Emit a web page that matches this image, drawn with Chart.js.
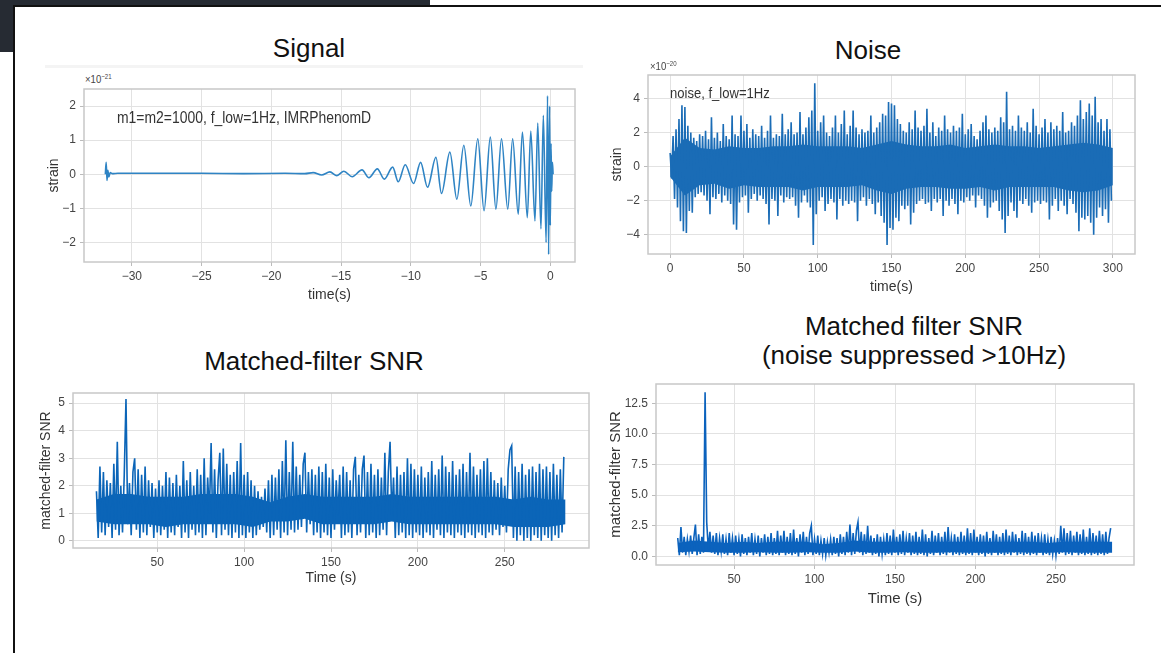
<!DOCTYPE html>
<html>
<head>
<meta charset="utf-8">
<script src="https://cdn.jsdelivr.net/npm/chart.js@4.4.1/dist/chart.umd.min.js"></script>
<style>
  body { margin:0; width:1161px; height:653px; overflow:hidden; background:#fff; position:relative; font-family:"Liberation Sans", Arial, sans-serif; }
  .abs { position:absolute; }
  .title { position:absolute; width:440px; text-align:center; font-size:26px; line-height:30px; color:#111; }
  .note { position:absolute; z-index:5; color:#333; white-space:nowrap; line-height:1; transform:scaleX(0.87); transform-origin:left center; }
  canvas { position:absolute; }
</style>
</head>
<body>
<div class="abs" style="left:0;top:0;width:430px;height:52px;background:#262b33"></div>
<div class="abs" style="left:13px;top:5px;width:1150px;height:650px;border-left:2px solid #111;border-top:2px solid #111;background:#fff"></div>
<div class="abs" style="left:45px;top:65px;width:538px;height:3px;background:#f4f4f4"></div>

<div class="title" style="left:89px;top:33px">Signal</div>
<div class="title" style="left:648px;top:35px">Noise</div>
<div class="title" style="left:94px;top:346px">Matched-filter SNR</div>
<div class="title" style="left:694px;top:311px">Matched filter SNR</div>
<div class="title" style="left:694px;top:340px">(noise suppressed &gt;10Hz)</div>

<div class="note" style="left:85px;top:73px;font-size:11px;color:#444">×10<span style="font-size:7px;vertical-align:4px">−21</span></div>
<div class="note" style="left:650px;top:60px;font-size:11px;color:#444">×10<span style="font-size:7px;vertical-align:4px">−20</span></div>
<div class="note" style="left:117px;top:110px;font-size:16px">m1=m2=1000, f_low=1Hz, IMRPhenomD</div>
<div class="note" style="left:670px;top:85px;font-size:15px">noise, f_low=1Hz</div>

<canvas id="signal"></canvas>
<canvas id="noise"></canvas>
<canvas id="snr"></canvas>
<canvas id="snrLow"></canvas>

<script>
// Signal: strain (x1e-21) at peaks/troughs of the chirp
const signalTime = [-31.9, -31.84, -31.78, -31.72, -31.65, -31.55, -31.4, -31.0, -28, -25, -22, -19, -17.6,
  -17.0, -16.4, -15.8, -15.3, -14.8, -14.2, -13.5, -13.0, -12.4, -11.9, -11.3, -10.9, -10.4, -9.8, -9.3, -8.8,
  -8.2, -7.8, -7.2, -6.7, -6.2, -5.7, -5.2, -4.75, -4.3, -3.9, -3.5, -3.05, -2.7, -2.3, -2.0, -1.65, -1.4, -1.1,
  -0.9, -0.67, -0.5, -0.3, -0.2, -0.12, -0.05, 0.0, 0.05, 0.1, 0.15, 0.2];
const signalStrain = [0, 0.35, -0.18, 0.12, -0.08, 0.05, 0.02, 0.03, 0.03, 0.03, 0.02, 0.03, 0.02,
  0.05, -0.02, 0.07, -0.04, 0.09, -0.07, 0.13, -0.1, 0.16, -0.14, 0.21, -0.22, 0.28, -0.27, 0.35, -0.38,
  0.5, -0.56, 0.65, -0.73, 0.85, -0.93, 1.04, -1.07, 1.09, -1.02, 1.04, -1.02, 1.04, -1.17, 1.24, -1.27, 1.27, -1.37,
  1.5, -1.6, 1.73, -2.0, 2.3, -2.35, 2.0, -1.5, 0.9, -0.5, 0.35, 0.0];

// Noise: strain (x1e-20), one sample per second from t = 0
const noiseStart = 0, noiseStep = 1;
const noiseStrain = [
  0.8, -0.7, 1.8, -1.9, 2.2, -2.4, 2.8, -3.2, 3.6, -3.8,
  3.5, -3.9, 2.4, -2.6, 2.0, -2.7, 1.7, -1.8, 1.5, -1.6,
  1.9, -1.5, 1.8, -1.7, 2.1, -2.0, 1.6, -2.8, 2.9, -1.8,
  1.7, -1.9, 2.0, -1.6, 1.5, -2.1, 2.5, -1.7, 1.8, -2.0,
  1.6, -2.2, 3.0, -3.4, 1.9, -3.7, 1.8, -2.1, 3.0, -1.8,
  2.1, -1.7, 2.5, -2.7, 1.7, -1.9, 2.2, -1.6, 1.9, -2.0,
  1.8, -1.7, 2.4, -1.9, 1.7, -2.2, 2.1, -3.4, 3.0, -1.9,
  1.7, -2.0, 1.9, -2.9, 1.8, -1.7, 3.1, -2.1, 1.9, -1.8,
  2.2, -1.9, 2.6, -1.8, 1.9, -2.3, 2.0, -3.0, 3.2, -2.1,
  1.9, -1.7, 2.3, -2.1, 2.9, -2.4, 3.3, -4.6, 4.9, -2.8,
  2.1, -2.0, 2.6, -1.8, 3.0, -2.6, 2.0, -2.2, 1.8, -1.9,
  2.3, -2.1, 3.0, -3.1, 2.0, -1.9, 2.5, -2.3, 3.3, -2.0,
  1.9, -2.2, 2.4, -2.0, 3.3, -2.1, 2.3, -3.2, 1.9, -2.0,
  2.2, -1.8, 2.0, -2.3, 2.1, -1.9, 3.0, -2.2, 2.0, -2.8,
  2.3, -2.1, 2.6, -2.9, 3.1, -3.3, 3.0, -4.6, 3.8, -3.6,
  3.7, -3.7, 3.6, -3.0, 2.8, -3.2, 2.5, -2.3, 2.1, -2.5,
  2.0, -2.3, 2.6, -3.4, 2.2, -2.7, 3.3, -2.2, 2.3, -2.0,
  2.1, -1.9, 2.4, -2.2, 3.4, -2.1, 2.0, -2.6, 2.6, -1.9,
  1.8, -2.1, 2.3, -1.9, 2.1, -2.9, 3.0, -2.0, 2.2, -2.3,
  2.0, -1.9, 2.4, -2.2, 2.1, -2.8, 2.3, -2.0, 3.1, -2.1,
  1.9, -1.8, 2.2, -2.0, 2.5, -1.7, 1.8, -2.4, 1.6, -1.7,
  2.1, -1.9, 2.6, -2.3, 3.0, -3.0, 2.2, -2.4, 2.0, -2.1,
  2.3, -2.0, 2.1, -2.6, 2.9, -3.1, 2.6, -3.9, 4.4, -2.9,
  2.2, -2.1, 2.4, -2.6, 2.1, -3.0, 3.0, -2.0, 2.3, -2.2,
  2.1, -1.9, 2.6, -2.3, 2.0, -2.7, 3.4, -2.1, 2.4, -2.0,
  1.9, -2.2, 2.3, -2.0, 2.8, -2.1, 2.0, -3.1, 2.6, -2.3,
  2.2, -1.9, 2.4, -2.6, 2.1, -2.0, 3.2, -2.3, 2.0, -2.8,
  2.1, -1.9, 2.6, -2.2, 2.4, -2.7, 3.0, -3.8, 3.9, -3.0,
  2.8, -3.1, 3.2, -2.9, 3.7, -3.3, 3.0, -4.0, 4.1, -3.0,
  2.6, -2.4, 2.8, -2.9, 2.1, -2.5, 2.8, -3.3, 2.2, -2.0];
// solid core of the noise band (every 10 s from t = 0), where the samples overlap
const noiseCoreStep = 10;
const noiseCoreTop = [0.6, 1.7, 1.1, 1.0, 1.2, 1.1, 1.1, 1.2, 1.2, 1.3, 1.2, 1.2, 1.2, 1.1, 1.3, 1.5,
  1.3, 1.2, 1.2, 1.3, 1.1, 1.2, 1.3, 1.2, 1.2, 1.1, 1.2, 1.3, 1.4, 1.3, 1.1];
const noiseCoreBottom = [-0.6, -1.7, -1.1, -1.0, -1.3, -1.1, -1.2, -1.2, -1.2, -1.4, -1.2, -1.2, -1.2, -1.1, -1.4, -1.6,
  -1.3, -1.2, -1.2, -1.3, -1.3, -1.2, -1.4, -1.2, -1.2, -1.2, -1.2, -1.4, -1.5, -1.4, -1.1];

// Matched-filter SNR, one sample per second from t = 15
const snrStart = 15, snrStep = 1;
const snrValues = [
  1.8, 0.1, 2.7, 0.3, 2.5, 0.2, 2.2, 0.5, 2.1, 0.1,
  2.8, 0.4, 3.6, 0.2, 2.0, 0.3, 2.4, 5.15, 0.6, 2.1,
  0.2, 2.5, 3.0, 0.4, 2.6, 0.1, 2.4, 0.3, 2.7, 0.2,
  2.2, 0.5, 2.1, 0.1, 1.9, 0.3, 2.2, 0.2, 2.0, 0.4,
  2.5, 0.1, 2.3, 0.3, 2.1, 0.2, 2.4, 0.5, 2.0, 0.1,
  2.9, 0.3, 2.2, 0.1, 2.5, 0.4, 2.0, 0.2, 2.6, 0.3,
  2.4, 0.1, 3.0, 0.2, 2.3, 1.0, 3.55, 0.3, 2.6, 0.1,
  2.2, 3.2, 0.2, 3.35, 0.4, 2.8, 0.2, 2.4, 0.1, 2.5,
  0.3, 2.9, 0.1, 3.55, 0.2, 2.4, 0.1, 2.5, 0.3, 2.2,
  0.1, 2.0, 0.2, 1.8, 0.4, 1.6, 0.5, 1.9, 0.3, 2.2,
  0.1, 2.4, 0.2, 2.3, 0.4, 2.6, 0.1, 2.9, 0.3, 3.65,
  0.2, 2.5, 0.4, 3.6, 0.3, 2.7, 0.4, 2.4, 0.5, 2.8,
  3.2, 0.3, 2.5, 0.6, 2.6, 0.2, 2.4, 0.3, 2.7, 0.1,
  2.5, 0.3, 2.8, 0.2, 2.3, 0.1, 2.6, 0.4, 2.2, 0.9,
  2.4, 0.1, 2.7, 0.2, 2.5, 0.3, 2.2, 0.1, 2.6, 3.05,
  0.2, 2.4, 0.3, 2.6, 3.1, 0.1, 2.5, 0.2, 2.8, 0.3,
  2.4, 0.1, 2.6, 0.2, 2.3, 0.4, 3.2, 0.2, 2.5, 3.6,
  0.9, 2.3, 0.1, 2.7, 0.2, 2.4, 0.3, 2.5, 0.1, 3.0,
  0.2, 2.8, 0.1, 2.6, 0.3, 2.4, 0.2, 2.7, 0.1, 2.3,
  0.3, 2.5, 0.2, 2.9, 0.1, 2.4, 0.4, 2.6, 0.2, 3.1,
  0.1, 2.7, 0.3, 2.5, 0.2, 2.9, 0.1, 2.4, 0.3, 2.6,
  0.2, 2.8, 0.1, 2.5, 0.3, 3.2, 0.2, 2.7, 0.1, 2.4,
  0.3, 2.6, 0.2, 2.9, 0.1, 3.0, 0.3, 2.5, 0.2, 2.2,
  0.4, 2.1, 0.2, 2.3, 0.5, 2.0, 0.3, 2.6, 3.3, 3.45,
  0.1, 2.7, 0.0, 2.5, 0.2, 2.8, 0.0, 2.4, 0.1, 2.6,
  0.0, 2.7, 0.2, 2.5, 0.1, 2.8, 0.0, 2.6, 0.2, 2.7,
  0.1, 2.5, 0.0, 2.8, 0.2, 2.4, 0.1, 2.6, 0.3, 3.05];
// solid core of the SNR band (every 10 s from t = 15)
const snrCoreStep = 10;
const snrCoreTop = [1.5, 1.7, 1.7, 1.6, 1.6, 1.6, 1.7, 1.7, 1.7, 1.6, 1.4, 1.6, 1.7, 1.6,
  1.6, 1.6, 1.6, 1.7, 1.6, 1.6, 1.6, 1.6, 1.6, 1.6, 1.5, 1.6, 1.5, 1.5];
const snrCoreBottom = [0.7, 0.6, 0.6, 0.6, 0.5, 0.6, 0.6, 0.6, 0.6, 0.5, 0.7, 0.7, 0.8, 0.6,
  0.6, 0.6, 0.6, 0.7, 0.6, 0.6, 0.6, 0.6, 0.6, 0.6, 0.5, 0.5, 0.5, 0.6];

// Matched-filter SNR with noise suppressed >10Hz, same sampling
const snrLowValues = [
  1.5, 0.1, 2.4, 0.3, 1.6, 0.1, 1.4, 0.4, 1.7, 0.2,
  1.5, 2.6, 0.1, 1.8, 0.2, 1.6, 0.3, 13.4, 2.8, 0.6,
  2.0, 0.3, 1.7, 0.2, 1.9, 0.1, 1.5, 0.4, 1.8, 0.2,
  1.4, 0.1, 1.9, 0.3, 1.5, 0.1, 1.7, 0.2, 1.4, 0.0,
  1.8, 0.2, 1.5, 0.1, 1.6, 0.3, 1.9, 0.1, 1.4, 0.2,
  1.7, 0.0, 1.5, 0.3, 1.8, 0.1, 1.6, 0.2, 1.9, 0.1,
  1.5, 0.2, 2.1, 0.1, 1.7, 0.3, 2.1, 0.1, 1.6, 0.2,
  1.9, 0.1, 2.2, 0.2, 1.5, 0.0, 1.8, 0.3, 2.0, 0.1,
  1.6, 0.2, 1.9, 2.5, 0.1, 1.4, 0.2, 1.7, 0.1, 1.3,
  0.2, 1.5, 0.1, 1.2, 0.3, 1.4, 0.1, 1.6, 0.2, 1.5,
  0.0, 1.8, 0.2, 1.6, 0.1, 2.0, 0.3, 2.6, 0.1, 1.9,
  0.2, 2.1, 2.8, 0.3, 2.0, 0.1, 1.8, 0.2, 2.5, 0.3,
  1.7, 0.1, 1.5, 0.2, 1.8, 0.0, 1.6, 0.2, 1.4, 0.1,
  1.9, 0.2, 1.7, 0.1, 2.2, 0.3, 1.6, 0.1, 1.8, 0.2,
  2.1, 0.1, 1.5, 0.3, 1.9, 0.1, 1.7, 0.2, 2.0, 0.1,
  1.6, 0.2, 2.2, 0.1, 1.8, 0.0, 1.5, 0.2, 2.1, 0.1,
  1.7, 0.3, 1.9, 0.1, 1.6, 0.2, 2.0, 0.1, 2.4, 0.3,
  1.5, 0.1, 1.8, 0.2, 1.6, 0.1, 2.0, 0.2, 1.7, 0.1,
  2.3, 0.2, 1.9, 0.1, 2.2, 0.3, 1.6, 0.1, 1.8, 0.2,
  1.7, 0.0, 2.0, 0.2, 1.5, 0.1, 2.1, 0.3, 1.8, 0.1,
  1.6, 0.2, 1.9, 0.1, 2.2, 0.2, 1.7, 0.1, 2.0, 0.3,
  1.8, 0.1, 1.5, 0.2, 2.1, 0.1, 1.9, 0.2, 1.6, 0.1,
  2.0, 0.2, 1.7, 0.1, 1.9, 0.3, 1.5, 0.1, 1.8, 0.2,
  1.4, 0.1, 1.6, 0.2, 1.3, 0.1, 1.5, 0.2, 2.5, 0.3,
  2.3, 0.1, 1.9, 0.2, 2.1, 0.1, 1.7, 0.3, 2.0, 0.1,
  1.8, 0.2, 2.2, 0.1, 1.6, 0.2, 2.3, 0.1, 1.9, 0.2,
  1.7, 0.1, 2.1, 0.2, 1.8, 0.1, 2.0, 0.2, 1.5, 2.3];
const snrLowCoreTop = [1.1, 1.3, 1.2, 1.1, 1.2, 1.1, 1.2, 1.2, 1.2, 1.0, 1.1, 1.3, 1.2, 1.2,
  1.2, 1.2, 1.2, 1.2, 1.2, 1.2, 1.2, 1.2, 1.2, 1.1, 1.2, 1.2, 1.2, 1.2];
const snrLowCoreBottom = [0.35, 0.4, 0.35, 0.3, 0.3, 0.35, 0.3, 0.3, 0.35, 0.3, 0.3, 0.4, 0.3, 0.3,
  0.35, 0.3, 0.3, 0.35, 0.3, 0.3, 0.3, 0.35, 0.3, 0.3, 0.35, 0.3, 0.3, 0.3];

const signalXTicks = [-30, -25, -20, -15, -10, -5, 0];
const signalYTicks = [-2, -1, 0, 1, 2];
const noiseXTicks = [0, 50, 100, 150, 200, 250, 300];
const noiseYTicks = [-4, -2, 0, 2, 4];
const snrXTicks = [50, 100, 150, 200, 250];
const snrYTicks = [0, 1, 2, 3, 4, 5];
const snrLowYTicks = [0, 2.5, 5, 7.5, 10, 12.5];

const FONT = '"Liberation Sans", Arial, sans-serif';
const Y_W = 60, X_H = 46, PAD = 4;

// matplotlib-like box around the axes
const frame = {
  id: 'frame',
  afterDatasetsDraw(chart) {
    const {ctx, chartArea: a} = chart;
    ctx.save();
    ctx.strokeStyle = '#c8c8c8';
    ctx.lineWidth = 1.5;
    ctx.strokeRect(a.left, a.top, a.right - a.left, a.bottom - a.top);
    ctx.restore();
  }
};

const minus = v => (v < 0 ? '\u2212' + Math.abs(v) : String(v));
const series = (start, step, vals) => vals.map((v, i) => ({x: start + i * step, y: v}));

// filled band (top dataset fills down to the next one)
function band(top, bottom, color) {
  const base = {borderWidth: 0, pointRadius: 0, backgroundColor: color, borderColor: color};
  return [
    Object.assign({data: top, fill: '+1'}, base),
    Object.assign({data: bottom, fill: false}, base)
  ];
}

function makeChart(id, o) {
  const [L, T, R, B] = o.area;
  const canvas = document.getElementById(id);
  const left = L - Y_W, top = T - PAD;
  const w = R - left + PAD, h = B - top + X_H;
  canvas.width = w; canvas.height = h;
  Object.assign(canvas.style, {left: left + 'px', top: top + 'px', width: w + 'px', height: h + 'px'});
  const lh = o.labelSize * 1.2;
  const grid = {color: '#e2e2e2', lineWidth: 1, tickLength: 4, tickColor: '#bbb'};

  const datasets = [{
    data: o.points,
    borderColor: o.color,
    borderWidth: o.lineWidth,
    pointRadius: 0,
    fill: false,
    tension: 0,
    cubicInterpolationMode: o.smooth ? 'monotone' : 'default'
  }];
  if (o.core) datasets.push(...band(o.core[0], o.core[1], o.color));

  new Chart(canvas, {
    type: 'line',
    data: {datasets},
    plugins: [frame],
    options: {
      responsive: false,
      animation: false,
      devicePixelRatio: 1,
      parsing: false,
      events: [],
      layout: {padding: {top: PAD, right: PAD, left: 0, bottom: 0}},
      plugins: {legend: {display: false}, tooltip: {enabled: false}},
      scales: {
        x: {
          type: 'linear', min: o.xMin, max: o.xMax,
          afterBuildTicks: s => { s.ticks = o.xTicks.map(v => ({value: v})); },
          afterFit: s => { s.height = X_H; s.paddingLeft = 0; s.paddingRight = 0; },
          grid: grid,
          border: {display: false},
          ticks: {font: {family: FONT, size: 12}, color: '#444', padding: 3, maxRotation: 0, callback: o.xFmt || minus},
          title: {display: true, text: o.xTitle, color: '#333', font: {family: FONT, size: o.labelSize},
                  padding: {top: 0, bottom: (top + h) - o.xTitleY - lh / 2}}
        },
        y: {
          type: 'linear', min: o.yMin, max: o.yMax,
          afterBuildTicks: s => { s.ticks = o.yTicks.map(v => ({value: v})); },
          afterFit: s => { s.width = Y_W; s.paddingTop = 0; s.paddingBottom = 0; },
          grid: grid,
          border: {display: false},
          ticks: {font: {family: FONT, size: 12}, color: '#444', padding: 4, callback: o.yFmt || minus},
          title: {display: true, text: o.yTitle, color: '#333', font: {family: FONT, size: o.labelSize},
                  padding: {top: o.yTitleX - left - lh / 2, bottom: 0}}
        }
      }
    }
  });
}

makeChart('signal', {
  area: [84, 89, 575, 262],
  points: signalTime.map((t, i) => ({x: t, y: signalStrain[i]})),
  color: '#2f84c4', lineWidth: 1.6, smooth: true,
  xMin: -33.43, xMax: 1.77, yMin: -2.57, yMax: 2.5,
  xTicks: signalXTicks, yTicks: signalYTicks,
  xTitle: 'time(s)', yTitle: 'strain', labelSize: 14, xTitleY: 295, yTitleX: 54
});

makeChart('noise', {
  area: [648, 75, 1135, 254],
  points: series(noiseStart, noiseStep, noiseStrain),
  core: [series(noiseStart, noiseCoreStep, noiseCoreTop), series(noiseStart, noiseCoreStep, noiseCoreBottom)],
  color: '#1a6cb6', lineWidth: 1.6,
  xMin: -15, xMax: 315, yMin: -5.13, yMax: 5.38,
  xTicks: noiseXTicks, yTicks: noiseYTicks,
  xTitle: 'time(s)', yTitle: 'strain', labelSize: 14, xTitleY: 287, yTitleX: 617
});

makeChart('snr', {
  area: [73, 393, 589, 548],
  points: series(snrStart, snrStep, snrValues),
  core: [series(snrStart, snrCoreStep, snrCoreTop), series(snrStart, snrCoreStep, snrCoreBottom)],
  color: '#0b65b8', lineWidth: 1.6,
  xMin: 1.5, xMax: 298.5, yMin: -0.26, yMax: 5.37,
  xTicks: snrXTicks, yTicks: snrYTicks,
  xTitle: 'Time (s)', yTitle: 'matched-filter SNR', labelSize: 14, xTitleY: 578, yTitleX: 46
});

makeChart('snrLow', {
  area: [656, 384, 1134, 565],
  points: series(snrStart, snrStep, snrLowValues),
  core: [series(snrStart, snrCoreStep, snrLowCoreTop), series(snrStart, snrCoreStep, snrLowCoreBottom)],
  color: '#0b62bd', lineWidth: 1.6,
  xMin: 1.5, xMax: 298.5, yMin: -0.7, yMax: 14.07,
  xTicks: snrXTicks, yTicks: snrLowYTicks, yFmt: v => v.toFixed(1),
  xTitle: 'Time (s)', yTitle: 'matched-filter SNR', labelSize: 15, xTitleY: 599, yTitleX: 616
});
</script>
</body>
</html>
